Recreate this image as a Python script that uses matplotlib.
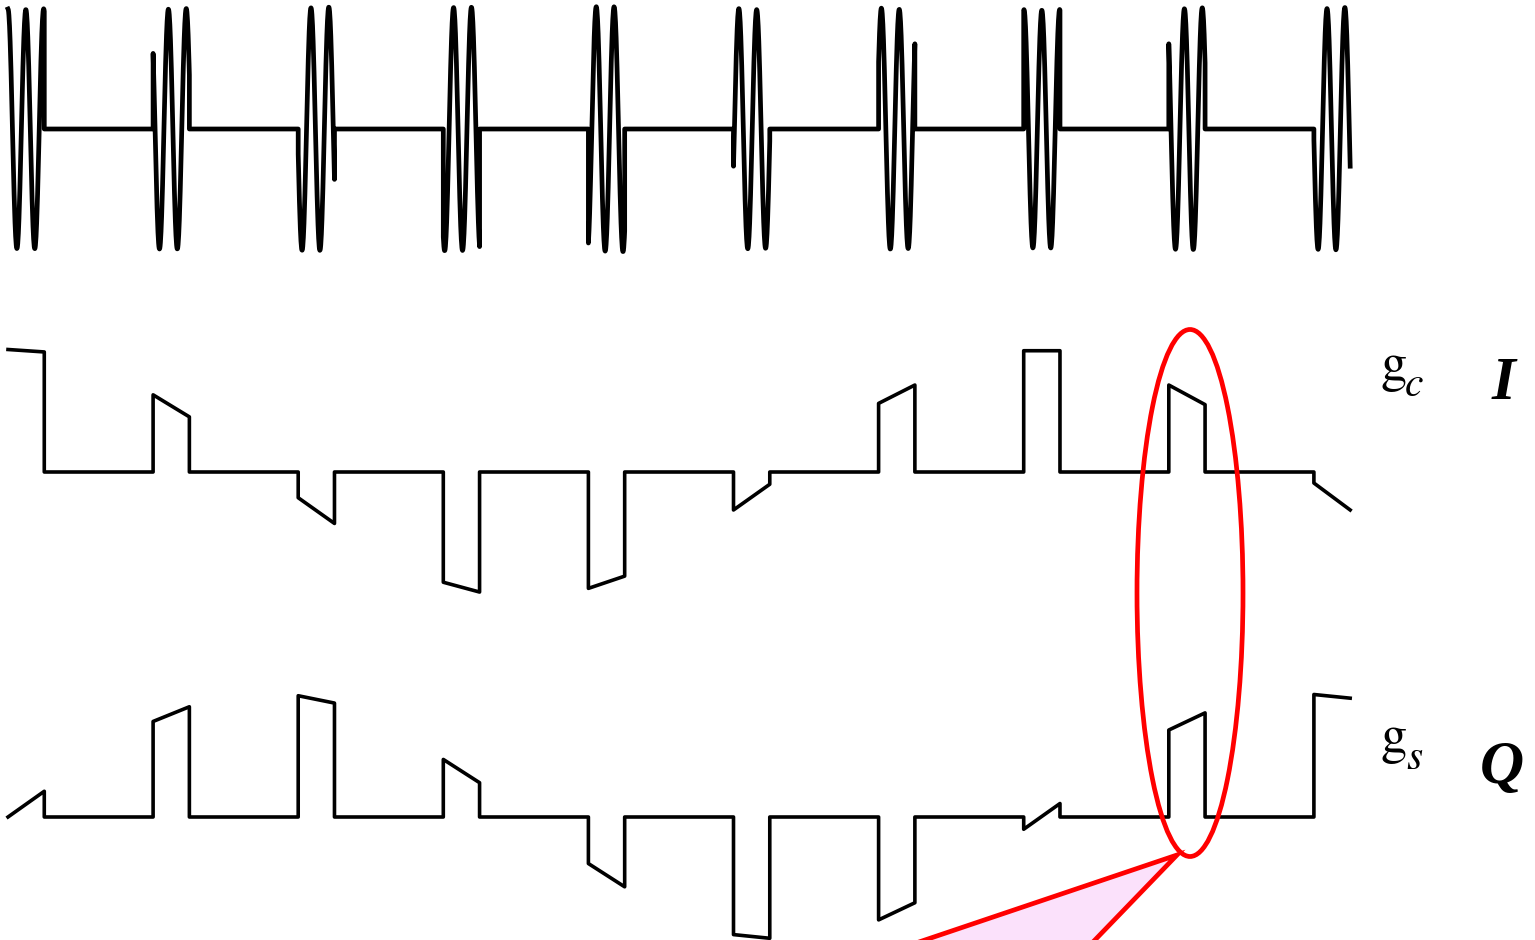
import numpy as np
import matplotlib.pyplot as plt
from matplotlib.patches import Ellipse, Polygon

# symbol index 0..9, pulse occupies a quarter of each symbol period
symbols = list(range(10))
duty = 0.25

# in-phase (g_c) pulse values at the start and end of every pulse
i_start = [1.00, 0.63, -0.21, -0.90, -0.95, -0.31, 0.56, 0.99, 0.71, -0.09]
i_end = [0.98, 0.45, -0.42, -0.98, -0.85, -0.10, 0.71, 0.99, 0.55, -0.31]
# quadrature (g_s) pulse values
q_start = [0.00, 0.78, 0.99, 0.47, -0.38, -0.96, -0.84, -0.10, 0.71, 1.00]
q_end = [0.21, 0.90, 0.93, 0.28, -0.57, -0.99, -0.70, 0.11, 0.85, 0.97]

carrier_cycles = 2  # carrier cycles inside one pulse

label_main = 'g'
sub_i = 'c'
sub_q = 's'
name_i = 'I'
name_q = 'Q'

W, H = 1535, 940
sym_px = 145.1
x0_px = 8


def baseband(start, end):
    xs, ys = [], []
    n = len(symbols)
    for k in symbols:
        if k > 0:
            xs.append(k)
            ys.append(0)
        xs += [k, k + duty]
        ys += [start[k], end[k]]
        if k < n - 1:
            xs.append(k + duty)
            ys.append(0)
    return xs, ys


def passband():
    xs, ys = [], []
    n = len(symbols)
    for k in symbols:
        tau = np.linspace(0, duty, 120)
        f = tau / duty
        ii = i_start[k] + (i_end[k] - i_start[k]) * f
        qq = q_start[k] + (q_end[k] - q_start[k]) * f
        th = 2 * np.pi * carrier_cycles * f
        s = ii * np.cos(th) - qq * np.sin(th)
        if k > 0:
            xs.append(k)
            ys.append(0)
        xs += list(k + tau)
        ys += list(s)
        if k < n - 1:
            xs.append(k + duty)
            ys.append(0)
    return xs, ys


fig = plt.figure(figsize=(W / 100, H / 100), dpi=100)
fig.patch.set_facecolor('white')

xlim = (-x0_px / sym_px, (W - x0_px) / sym_px)
half = 128


def band_axes(center_px, amp_px=122.5):
    bottom = (H - center_px - half) / H
    ax = fig.add_axes([0, bottom, 1, 2 * half / H])
    ax.set_xlim(*xlim)
    ax.set_ylim(-half / amp_px, half / amp_px)
    ax.axis('off')
    ax.patch.set_alpha(0)
    return ax


ax_top = band_axes(129, 120)
x, y = passband()
ax_top.plot(x, y, color='black', lw=3.4, clip_on=False)

ax_i = band_axes(472)
x, y = baseband(i_start, i_end)
ax_i.plot(x, y, color='black', lw=2.6, clip_on=False)

ax_q = band_axes(817)
x, y = baseband(q_start, q_end)
ax_q.plot(x, y, color='black', lw=2.6, clip_on=False)

# annotation layer in pixel units
ov = fig.add_axes([0, 0, 1, 1])
ov.set_xlim(0, W)
ov.set_ylim(H, 0)
ov.axis('off')
ov.patch.set_alpha(0)

apex = (1177, 855)
tri = Polygon([apex, (747, 1000), (1037, 1000)], closed=True,
              facecolor='#fbe1fb', edgecolor='#ff0000', lw=3.4, zorder=3)
ov.add_patch(tri)
ov.add_patch(Ellipse((1190, 593), 106, 527, fill=False,
                     edgecolor='#ff0000', lw=3.4, zorder=4))

stix = 'STIXGeneral'
serif = 'Liberation Serif'
ov.text(1380, 380, label_main, fontsize=38, family=stix, ha='left', va='baseline')
ov.text(1405, 396, sub_i, fontsize=30, family=stix, style='italic',
        ha='left', va='baseline')
ov.text(1381, 752, label_main, fontsize=38, family=stix, ha='left', va='baseline')
ov.text(1406, 769, sub_q, fontsize=30, family=stix, style='italic',
        ha='left', va='baseline')
ov.text(1492, 399, name_i, fontsize=44, ha='left', va='baseline',
        family=serif, weight='bold', style='italic')
ov.text(1480, 783, name_q, fontsize=44, ha='left', va='baseline',
        family=serif, weight='bold', style='italic')

fig.savefig('out.png', dpi=100)
